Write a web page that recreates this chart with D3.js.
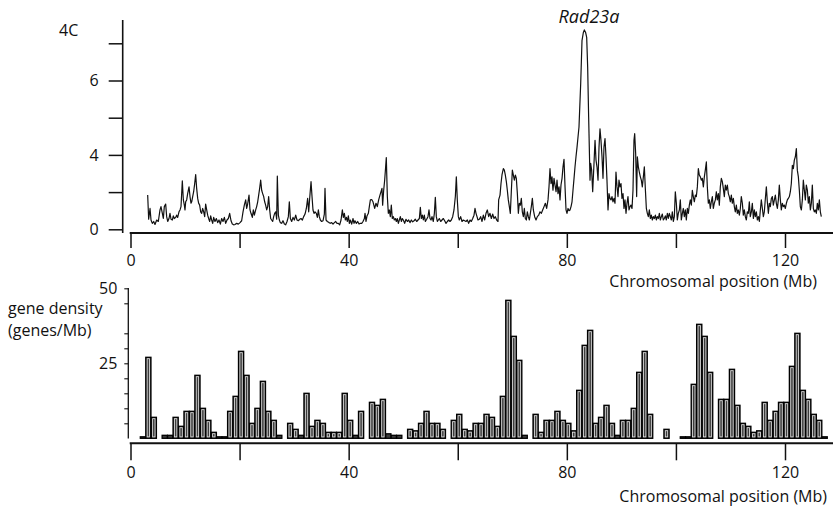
<!DOCTYPE html>
<html>
<head>
<meta charset="utf-8">
<script src="https://cdn.jsdelivr.net/npm/d3@7"></script>
<style>
  html, body { margin: 0; padding: 0; background: #fff; }
  svg { display: block; font-family: "Open Sans", "Noto Sans", sans-serif; }
</style>
</head>
<body>
<svg id="chart" width="836" height="512"></svg>
<script>
// 4C signal along the chromosome: [position (Mb), signal level in axis tick units]
const signal4C = [
  [3.15,0.92],[3.33,0.27],[3.58,0.56],[3.76,0.25],[4.00,0.16],[4.25,0.21],[4.49,0.13],[4.80,0.25],[5.10,0.21],[5.41,0.52],
  [5.59,0.61],[5.84,0.43],[6.02,0.29],[6.20,0.61],[6.45,0.68],[6.63,0.34],[6.82,0.21],[7.06,0.29],[7.24,0.43],[7.43,0.27],
  [7.67,0.25],[7.85,0.36],[8.04,0.29],[8.28,0.32],[8.46,0.38],[8.65,0.32],[8.89,0.47],[9.08,0.52],[9.26,0.61],[9.50,1.30],
  [9.69,0.79],[9.87,0.65],[9.99,0.52],[10.12,0.74],[10.30,0.79],[10.48,0.96],[10.73,1.14],[10.91,0.88],[11.09,0.70],[11.22,0.74],
  [11.40,0.88],[11.58,1.01],[11.77,1.23],[11.95,1.47],[12.13,1.10],[12.32,0.83],[12.50,0.70],[12.68,0.65],[12.87,0.47],[13.05,0.43],
  [13.23,0.56],[13.42,0.47],[13.60,0.34],[13.78,0.68],[13.97,0.52],[14.15,0.38],[14.33,0.29],[14.52,0.21],[14.70,0.36],[14.88,0.25],
  [15.07,0.16],[15.25,0.32],[15.49,0.21],[15.74,0.29],[15.98,0.18],[16.23,0.25],[16.47,0.14],[16.72,0.29],[16.96,0.21],[17.21,0.32],
  [17.45,0.16],[17.69,0.25],[17.94,0.29],[18.18,0.43],[18.43,0.23],[18.67,0.14],[18.92,0.12],[19.16,0.13],[19.47,0.16],[19.77,0.14],
  [20.08,0.18],[20.38,0.23],[20.63,0.47],[20.87,0.65],[21.12,0.79],[21.30,0.56],[21.48,0.68],[21.73,0.92],[21.91,0.52],[22.09,0.43],
  [22.34,0.32],[22.52,0.52],[22.71,0.38],[22.95,0.52],[23.13,0.61],[23.32,0.74],[23.50,0.92],[23.68,1.10],[23.87,1.32],[24.05,1.05],
  [24.23,0.96],[24.42,0.88],[24.60,0.74],[24.78,0.65],[24.97,0.52],[25.15,0.61],[25.33,0.88],[25.52,0.52],[25.70,0.29],[25.88,0.25],
  [26.07,0.21],[26.25,0.34],[26.43,0.43],[26.62,0.47],[26.80,0.27],[26.92,1.43],[27.11,0.38],[27.29,0.25],[27.47,0.18],[27.72,0.16],
  [27.96,0.23],[28.21,0.14],[28.45,0.12],[28.70,0.21],[28.94,0.34],[29.12,0.74],[29.31,0.29],[29.55,0.21],[29.80,0.32],[30.04,0.25],
  [30.29,0.38],[30.53,0.25],[30.77,0.23],[31.02,0.27],[31.26,0.29],[31.51,0.25],[31.75,0.34],[32.00,0.41],[32.24,0.56],[32.48,0.83],
  [32.67,0.47],[32.85,0.83],[33.10,1.28],[33.28,0.88],[33.46,0.52],[33.65,0.43],[33.83,0.47],[34.07,0.43],[34.26,0.32],[34.44,0.52],
  [34.62,0.34],[34.81,0.25],[35.05,0.21],[35.30,0.23],[35.54,0.41],[35.66,1.10],[35.85,0.25],[36.09,0.21],[36.40,0.18],[36.64,0.16],
  [36.89,0.18],[37.13,0.14],[37.38,0.18],[37.62,0.21],[37.86,0.16],[38.11,0.16],[38.35,0.12],[38.60,0.25],[38.84,0.52],[39.03,0.32],
  [39.21,0.43],[39.39,0.25],[39.58,0.32],[39.76,0.21],[39.94,0.36],[40.13,0.16],[40.31,0.25],[40.55,0.14],[40.80,0.29],[40.98,0.16],
  [41.16,0.23],[41.41,0.16],[41.65,0.21],[41.90,0.14],[42.14,0.16],[42.39,0.16],[42.63,0.21],[42.88,0.29],[43.00,0.43],[43.18,0.21],
  [43.36,0.36],[43.61,0.43],[43.79,0.61],[43.98,0.79],[44.22,0.80],[44.46,0.74],[44.77,0.56],[45.01,0.70],[45.25,0.61],[45.50,0.79],
  [45.74,0.92],[45.93,1.01],[46.11,1.10],[46.23,0.65],[46.42,1.05],[46.60,1.32],[46.78,1.68],[46.90,1.93],[47.09,0.88],[47.27,0.43],
  [47.45,0.52],[47.64,0.34],[47.82,0.65],[48.00,0.29],[48.19,0.34],[48.37,0.25],[48.56,0.29],[48.74,0.21],[48.92,0.29],[49.11,0.16],
  [49.29,0.25],[49.47,0.34],[49.66,0.21],[49.84,0.29],[50.02,0.25],[50.27,0.16],[50.51,0.27],[50.76,0.21],[51.00,0.25],[51.24,0.18],
  [51.49,0.25],[51.73,0.20],[51.98,0.23],[52.22,0.27],[52.47,0.21],[52.71,0.25],[52.96,0.29],[53.14,0.59],[53.32,0.29],[53.51,0.38],
  [53.69,0.25],[53.87,0.38],[54.06,0.21],[54.30,0.27],[54.54,0.34],[54.73,0.52],[54.91,0.29],[55.10,0.25],[55.28,0.34],[55.52,0.21],
  [55.71,0.43],[55.89,0.86],[56.07,0.34],[56.26,0.21],[56.44,0.25],[56.62,0.29],[56.87,0.21],[57.11,0.25],[57.36,0.29],[57.60,0.23],
  [57.85,0.16],[58.09,0.21],[58.33,0.25],[58.58,0.21],[58.82,0.25],[59.07,0.34],[59.31,0.52],[59.56,0.88],[59.74,1.41],[59.92,0.79],
  [60.11,0.34],[60.29,0.25],[60.53,0.34],[60.78,0.21],[61.02,0.25],[61.27,0.23],[61.51,0.21],[61.76,0.25],[62.00,0.16],[62.25,0.25],
  [62.49,0.21],[62.74,0.29],[62.98,0.38],[63.16,0.56],[63.35,0.43],[63.53,0.34],[63.71,0.25],[63.96,0.27],[64.20,0.34],[64.45,0.21],
  [64.69,0.38],[64.94,0.25],[65.18,0.43],[65.42,0.52],[65.67,0.34],[65.91,0.43],[66.16,0.29],[66.40,0.41],[66.65,0.29],[66.89,0.34],
  [67.14,0.25],[67.38,0.21],[67.50,0.79],[67.75,0.92],[67.93,1.23],[68.11,1.46],[68.36,1.63],[68.54,1.59],[68.72,1.46],[68.91,1.28],
  [69.09,1.05],[69.27,0.79],[69.46,0.61],[69.64,0.43],[69.82,1.01],[70.01,1.59],[70.19,1.46],[70.38,1.32],[70.56,1.46],[70.74,1.37],
  [70.93,0.96],[71.11,0.43],[71.29,0.70],[71.48,0.65],[71.66,0.83],[71.84,0.47],[72.03,0.34],[72.21,0.56],[72.39,0.29],[72.58,0.25],
  [72.76,0.47],[72.94,0.34],[73.13,0.25],[73.31,0.43],[73.49,0.61],[73.68,0.83],[73.86,0.52],[74.10,0.34],[74.35,0.25],[74.59,0.34],
  [74.84,0.38],[75.08,0.47],[75.33,0.43],[75.57,0.52],[75.82,0.61],[76.06,0.70],[76.30,0.56],[76.55,0.79],[76.73,1.14],[76.91,1.63],
  [77.10,1.23],[77.28,1.41],[77.46,1.05],[77.65,1.37],[77.83,1.19],[78.02,1.01],[78.20,1.32],[78.38,0.96],[78.57,1.14],[78.75,0.79],
  [78.93,1.19],[79.12,1.37],[79.30,1.68],[79.48,1.88],[79.67,1.14],[79.85,0.52],[80.03,0.43],[80.22,0.56],[80.40,0.50],[80.58,0.52],
  [80.77,0.61],[80.95,0.74],[81.13,1.05],[81.32,1.37],[81.50,1.68],[81.68,1.95],[81.87,2.21],[82.05,2.48],[82.23,2.75],[82.54,3.91],
  [82.78,5.07],[83.03,5.29],[83.21,5.36],[83.45,5.29],[83.64,5.16],[83.82,4.36],[84.00,3.02],[84.25,1.32],[84.37,1.77],[84.55,1.59],
  [84.74,1.01],[84.98,1.77],[85.17,2.39],[85.35,1.86],[85.53,1.68],[85.72,1.32],[85.90,2.21],[86.08,2.70],[86.26,2.39],[86.45,1.95],
  [86.63,1.37],[86.81,2.21],[87.00,2.44],[87.18,1.95],[87.36,1.32],[87.55,0.52],[87.73,0.96],[87.91,0.83],[88.10,0.79],[88.28,0.88],
  [88.46,0.74],[88.65,0.83],[88.83,0.70],[89.01,1.54],[89.20,1.14],[89.38,0.88],[89.56,1.32],[89.75,1.14],[89.93,1.23],[90.11,0.83],
  [90.30,0.96],[90.48,0.56],[90.66,0.79],[90.85,0.43],[91.03,0.70],[91.21,0.88],[91.40,0.52],[91.58,0.61],[91.76,0.65],[91.95,0.56],
  [92.13,1.05],[92.31,2.39],[92.44,2.57],[92.62,2.04],[92.80,0.88],[92.93,1.95],[93.11,1.68],[93.29,1.54],[93.48,1.41],[93.66,1.32],
  [93.84,1.14],[94.03,1.41],[94.21,1.68],[94.39,1.10],[94.58,0.56],[94.76,0.43],[94.94,0.34],[95.13,0.52],[95.31,0.29],[95.49,0.38],
  [95.68,0.25],[95.86,0.34],[96.04,0.29],[96.23,0.38],[96.41,0.25],[96.59,0.34],[96.78,0.29],[96.96,0.43],[97.14,0.25],[97.33,0.34],
  [97.51,0.41],[97.69,0.25],[97.88,0.29],[98.06,0.36],[98.24,0.25],[98.43,0.43],[98.61,0.29],[98.79,0.43],[98.98,0.34],[99.16,0.25],
  [99.34,0.47],[99.53,0.21],[99.71,0.34],[99.89,1.01],[100.08,0.70],[100.26,0.25],[100.44,0.43],[100.63,0.52],[100.81,0.79],[100.99,0.25],
  [101.18,0.43],[101.36,0.56],[101.54,0.34],[101.73,0.52],[101.91,0.25],[102.09,0.56],[102.28,0.43],[102.46,0.65],[102.64,0.79],[102.83,0.65],
  [103.01,1.05],[103.19,0.88],[103.38,0.74],[103.56,0.92],[103.74,0.88],[103.93,1.14],[104.11,1.63],[104.29,1.46],[104.48,1.41],[104.66,1.32],
  [104.84,1.37],[105.03,1.14],[105.21,1.41],[105.39,1.59],[105.58,1.81],[105.76,1.14],[105.94,0.70],[106.13,0.79],[106.31,0.56],[106.49,0.74],
  [106.68,0.88],[106.86,0.56],[107.04,0.70],[107.23,0.79],[107.41,1.01],[107.59,0.79],[107.78,0.96],[107.96,0.65],[108.14,1.14],[108.33,1.37],
  [108.51,1.28],[108.69,1.10],[108.88,0.88],[109.06,1.19],[109.24,1.05],[109.43,1.19],[109.61,0.96],[109.79,0.88],[109.98,0.74],[110.16,0.92],
  [110.34,0.70],[110.53,0.83],[110.71,0.61],[110.89,0.47],[111.08,0.65],[111.26,0.43],[111.44,0.52],[111.63,0.38],[111.81,0.56],[111.99,0.88],
  [112.18,0.70],[112.36,0.38],[112.54,0.52],[112.73,0.34],[112.91,0.25],[113.09,0.47],[113.28,0.43],[113.46,0.74],[113.64,0.34],[113.83,0.47],
  [114.01,0.70],[114.20,0.29],[114.38,0.52],[114.56,0.34],[114.75,0.47],[114.93,0.25],[115.11,0.34],[115.30,0.21],[115.48,0.52],[115.66,0.79],
  [115.85,0.56],[116.03,0.34],[116.21,0.47],[116.40,0.83],[116.58,1.14],[116.76,0.74],[116.95,0.43],[117.13,0.70],[117.31,0.61],[117.50,0.83],
  [117.68,0.88],[117.86,0.65],[118.05,0.79],[118.23,0.92],[118.41,0.70],[118.60,0.56],[118.78,0.79],[118.96,1.19],[119.15,0.79],[119.33,0.52],
  [119.51,0.70],[119.70,0.61],[119.88,0.65],[120.06,0.56],[120.25,0.70],[120.43,0.79],[120.61,0.83],[120.80,0.88],[120.98,1.01],[121.16,1.23],
  [121.35,1.72],[121.53,1.63],[121.71,1.86],[121.90,1.95],[122.08,2.17],[122.26,1.59],[122.45,1.41],[122.63,1.05],[122.81,0.61],[123.00,0.52],
  [123.18,0.79],[123.36,1.32],[123.55,1.05],[123.73,0.79],[123.91,1.19],[124.10,1.05],[124.28,0.70],[124.46,0.88],[124.65,0.52],[124.83,0.70],
  [125.01,1.19],[125.20,0.56],[125.38,0.47],[125.56,0.52],[125.75,0.43],[125.93,0.70],[126.11,0.52],[126.30,0.79],[126.48,0.47],[126.66,0.34]
];

// Gene density per 1-Mb bin (genes/Mb), bins starting at 0 Mb
const geneDensity = [
  0, 0, 0.5, 27, 7, 0, 1, 1, 7, 4,
  9, 9, 21, 10, 6, 2, 0.5, 0.5, 9, 14,
  29, 21, 5, 10, 19, 9, 6, 1, 0, 5,
  3, 1, 15, 4, 6, 5, 2, 2, 2, 15,
  6, 1, 9, 0, 12, 11, 13, 1.5, 1, 1,
  0, 3, 2.5, 5, 9, 5, 5, 3, 0, 6,
  8, 3, 2.5, 5, 5, 8, 7, 4, 14, 46,
  34, 26, 1, 0, 8, 2, 6, 6, 9, 6,
  5, 2.5, 16, 31, 36, 5, 7, 11, 5, 1,
  6, 6, 10, 22, 29, 8, 0, 0, 3, 0,
  0, 0.5, 0.5, 18, 38, 34, 22, 0, 13, 13,
  23, 11, 5, 4, 2, 2.5, 12, 6, 9, 12,
  12, 24, 35, 16, 13, 8, 6, 0.5
];

// Axis ticks and labels
const xTicks = [0, 20, 40, 60, 80, 100, 120];
const xTickLabels = ["0", "", "40", "", "80", "", "120"];
const topTicks = [0, 1, 2, 3, 4, 5];
const topTickLabels = ["0", "", "4", "", "6", ""];
const bottomTicks = [5, 10, 15, 20, 25, 30, 35, 45, 50];
const bottomTickLabels = ["", "", "", "", "25", "", "", "", "50"];

const xAxisEndMb = 128.8;
const binWidthMb = 0.95;
const binShiftMb = -0.2;

const svg = d3.select("#chart");
const ink = "#111";

const x = d3.scaleLinear().domain([0, 120]).range([130.5, 785]);
const yTop = d3.scaleLinear().domain([0, 5]).range([229.3, 43.3]);
const yBot = d3.scaleLinear().domain([0, 50]).range([438.3, 288.3]);

function styleAxis(g, fontSize) {
  g.select(".domain").remove();
  g.selectAll(".tick line").attr("stroke", ink).attr("stroke-width", 1.5);
  g.selectAll(".tick text").attr("fill", ink).attr("font-size", fontSize)
    .attr("font-family", '"Open Sans", "Noto Sans", sans-serif');
}

// ---------- top panel: 4C signal ----------
const gTopY = svg.append("g").attr("transform", "translate(122.7,0)")
  .call(d3.axisLeft(yTop).tickValues(topTicks)
    .tickFormat((d, i) => topTickLabels[i]).tickSize(14).tickPadding(10));
styleAxis(gTopY, 16);
gTopY.append("line").attr("x1", 0).attr("x2", 0).attr("y1", 20).attr("y2", 233)
  .attr("stroke", ink).attr("stroke-width", 1.6);

const gTopX = svg.append("g").attr("transform", "translate(0,233)")
  .call(d3.axisBottom(x).tickValues(xTicks)
    .tickFormat((d, i) => xTickLabels[i]).tickSize(15).tickPadding(7));
styleAxis(gTopX, 16);
gTopX.append("line").attr("x1", x(0) - 0.8).attr("x2", x(xAxisEndMb))
  .attr("y1", 0).attr("y2", 0).attr("stroke", ink).attr("stroke-width", 2);

svg.append("path")
  .datum(signal4C)
  .attr("fill", "none")
  .attr("stroke", ink)
  .attr("stroke-width", 1.2)
  .attr("stroke-linejoin", "round")
  .attr("d", d3.line().x(d => x(d[0])).y(d => yTop(d[1])));

svg.append("text").attr("x", 59).attr("y", 36)
  .attr("font-size", 16).attr("fill", ink).text("4C");

svg.append("text").attr("x", 589).attr("y", 23)
  .attr("text-anchor", "middle").attr("font-style", "italic")
  .attr("font-size", 18).attr("fill", ink).text("Rad23a");

svg.append("text").attr("x", 817).attr("y", 287)
  .attr("text-anchor", "end").attr("font-size", 16).attr("fill", ink)
  .text("Chromosomal position (Mb)");

// ---------- bottom panel: gene density ----------
const gBotY = svg.append("g").attr("transform", "translate(128.3,0)")
  .call(d3.axisLeft(yBot).tickValues(bottomTicks)
    .tickFormat((d, i) => bottomTickLabels[i]).tickSize(4).tickPadding(7));
styleAxis(gBotY, 16);
gBotY.selectAll(".tick line").attr("stroke-width", 1.1);
gBotY.append("line").attr("x1", 0).attr("x2", 0).attr("y1", 288).attr("y2", 438.5)
  .attr("stroke", ink).attr("stroke-width", 1.3);

const gBotX = svg.append("g").attr("transform", "translate(0,443.3)")
  .call(d3.axisBottom(x).tickValues(xTicks)
    .tickFormat((d, i) => xTickLabels[i]).tickSize(17).tickPadding(6));
styleAxis(gBotX, 16);
gBotX.append("line").attr("x1", x(0) - 0.8).attr("x2", x(xAxisEndMb))
  .attr("y1", 0).attr("y2", 0).attr("stroke", ink).attr("stroke-width", 2);

const bins = geneDensity.map((v, i) => ({ start: i, value: v })).filter(d => d.value > 0);
const barW = x(binWidthMb) - x(0);

const bars = svg.append("g");
bars.selectAll("rect.bar").data(bins).join("rect")
  .attr("class", "bar")
  .attr("x", d => x(d.start + binShiftMb))
  .attr("y", d => yBot(d.value))
  .attr("width", barW)
  .attr("height", d => yBot(0) - yBot(d.value))
  .attr("fill", "#3c3c3c")
  .attr("stroke", "#000")
  .attr("stroke-width", 1.3);

// light inner rim of each bar
bars.selectAll("rect.rim").data(bins.filter(d => yBot(0) - yBot(d.value) > 5)).join("rect")
  .attr("class", "rim")
  .attr("x", d => x(d.start + binShiftMb) + 1.4)
  .attr("y", d => yBot(d.value) + 1.4)
  .attr("width", barW - 2.8)
  .attr("height", d => yBot(0) - yBot(d.value) - 2.8)
  .attr("fill", "none")
  .attr("stroke", "#e6e6e6")
  .attr("stroke-width", 0.8);

svg.append("text").attr("x", 8).attr("y", 314)
  .attr("font-size", 16).attr("fill", ink).text("gene density");
svg.append("text").attr("x", 8).attr("y", 336)
  .attr("font-size", 16).attr("fill", ink).text("(genes/Mb)");

svg.append("text").attr("x", 827).attr("y", 502)
  .attr("text-anchor", "end").attr("font-size", 16).attr("fill", ink)
  .text("Chromosomal position (Mb)");
</script>
</body>
</html>
